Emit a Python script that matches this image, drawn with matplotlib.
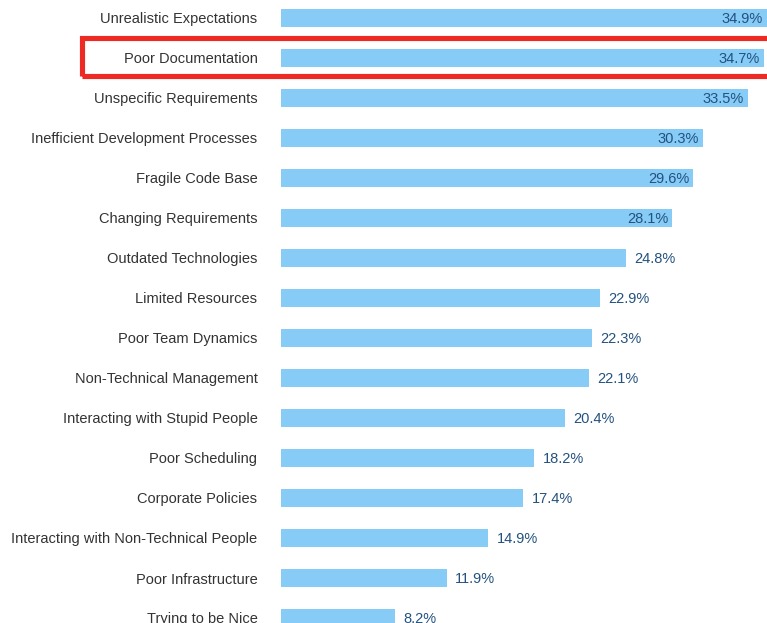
import matplotlib.pyplot as plt
from matplotlib.patches import Rectangle

categories = [
    'Unrealistic Expectations', 'Poor Documentation', 'Unspecific Requirements',
    'Inefficient Development Processes', 'Fragile Code Base', 'Changing Requirements',
    'Outdated Technologies', 'Limited Resources', 'Poor Team Dynamics',
    'Non-Technical Management', 'Interacting with Stupid People', 'Poor Scheduling',
    'Corporate Policies', 'Interacting with Non-Technical People', 'Poor Infrastructure',
    'Trying to be Nice',
]
values = [34.9, 34.7, 33.5, 30.3, 29.6, 28.1, 24.8, 22.9, 22.3, 22.1, 20.4, 18.2, 17.4, 14.9, 11.9, 8.2]
highlight = 'Poor Documentation'

plt.rcParams['font.family'] = ['Liberation Sans', 'DejaVu Sans']

W, H = 767, 623
fig = plt.figure(figsize=(W / 100, H / 100), dpi=100)
left = 281 / W
ax = fig.add_axes([left, 0, 1 - left, 1])

pos = list(range(len(categories)))
ax.barh(pos, values, height=0.45, color='#87CBF7')
ax.set_xlim(0, 34.9)
ax.set_ylim(-0.45 + H / 40, -0.45)

ax.set_yticks(pos)
ax.set_yticklabels(categories, fontsize=10.5, color='#333333')
ax.tick_params(axis='y', length=0, pad=17)
ax.set_xticks([])
for s in ax.spines.values():
    s.set_visible(False)

# value labels: inside the bar end for the long bars, outside for the rest
for p, v in zip(pos, values):
    if v > 26:
        ax.annotate(f"{v:.1f}%", (v, p), xytext=(-3, -1), textcoords='offset points',
                    ha='right', va='center', fontsize=10.5, color='#24527f')
    else:
        ax.annotate(f"{v:.1f}%", (v, p), xytext=(6, -1), textcoords='offset points',
                    ha='left', va='center', fontsize=10.5, color='#24527f')

# red box around the highlighted row (open on the right, runs off the edge)
hi = categories.index(highlight)
y_top = 18 + 40 * hi - 19.5
y_bot = 18 + 40 * hi + 18
x0 = 82
fig.patches.append(Rectangle((x0 / W, 1 - y_bot / H), (W + 20 - x0) / W, (y_bot - y_top) / H,
                             transform=fig.transFigure, fill=False, edgecolor='#ee2a24',
                             linewidth=3.7, clip_on=False))

fig.savefig('out.png', dpi=100)
